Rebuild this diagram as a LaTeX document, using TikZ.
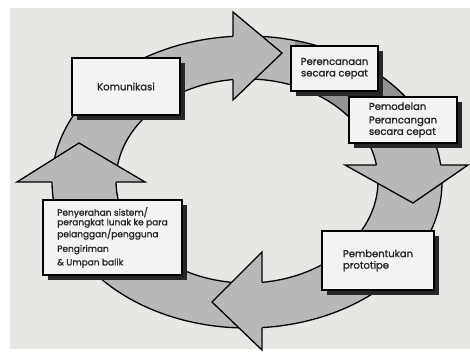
\documentclass[tikz,border=0pt]{standalone}
\usepackage{fontspec}
\setmainfont{Poppins}[FakeBold=1.3]
\usetikzlibrary{shadows}
\definecolor{paper}{HTML}{E7E7E4}
\definecolor{ringgray}{HTML}{B8B8B8}
\definecolor{ringdark}{HTML}{929292}
\definecolor{boxwhite}{HTML}{F3F3F1}
\begin{document}
\begin{tikzpicture}[x=1pt, y=-1pt]
	\tikzstyle{stage} = [rectangle, draw, line width=1.3pt, fill=boxwhite, text=black!85, inner sep=0pt, font=\fontsize{10}{11.5}\selectfont, align=left, drop shadow={shadow xshift=4.5pt, shadow yshift=-4.5pt, fill=black!85, opacity=1}]
	\tikzstyle{ring} = [line width=1.3pt, line join=miter]
	\tikzstyle{head} = [fill=ringgray]

	% Paper
	\useasboundingbox (0,0) rectangle (470,351);
	\fill[white] (0,0) rectangle (470,351);
	\fill[paper] (10,8) rectangle (470,349);

	% Ring
	\fill[ringgray, even odd rule] (247,182) ellipse [x radius=195, y radius=146] (247,181) ellipse [x radius=131, y radius=102];
	% darker part between the two boxes at the top right
	\begin{scope}[even odd rule]
		\clip (247,182) ellipse [x radius=195, y radius=146] (247,181) ellipse [x radius=131, y radius=102];
		\fill[ringdark] (295,30) rectangle (430,142);
	\end{scope}
	\draw[ring] (247,182) ellipse [x radius=195, y radius=146];
	\draw[ring] (247,181) ellipse [x radius=131, y radius=102];

	% Arrow heads
	% top, to the right
	\fill[head] (233,12) -- (282,53) -- (233,100) -- cycle;
	\draw[ring] (233,36.4) -- (233,12) -- (282,53) -- (233,100) -- (233,79.6);
	% right, downwards
	\fill[head] (345,165) -- (413,203) -- (468,165) -- cycle;
	\draw[ring] (376.4,165) -- (345,165) -- (413,203) -- (468,165) -- (440.7,165);
	% bottom, to the left
	\fill[head] (262,252) -- (212,302) -- (262,350) -- cycle;
	\draw[ring] (262,282.3) -- (262,252) -- (212,302) -- (262,350) -- (262,327.6);
	% left, upwards
	\fill[head] (17,182) -- (79,143) -- (145,182) -- cycle;
	\draw[ring] (52,182) -- (17,182) -- (79,143) -- (145,182) -- (116,182);

	% Stages
	\node (kom) [stage, minimum width=108pt, minimum height=57pt] at (126,86.5) {Komunikasi};
	\node (ren) [stage, minimum width=87pt, minimum height=45pt, align=center] at (334.5,68.5) {Perencanaan\\secara cepat};
	\node (mod) [stage, minimum width=108pt, minimum height=46pt] at (403,120) {Pemodelan\\[2pt]Perancangan\\secara cepat};
	\node (bentuk) [stage, minimum width=112pt, minimum height=59pt] at (378,260.5) {Pembentukan\\prototipe};
	\node (serah) [stage, minimum width=139pt, minimum height=75pt, font=\fontsize{9}{9.6}\selectfont] at (112.5,237.5) {Penyerahan sistem/\\perangkat lunak ke para\\pelanggan/pengguna\\[5pt]Pengiriman\\[4pt]\& Umpan balik};
\end{tikzpicture}
\end{document}
